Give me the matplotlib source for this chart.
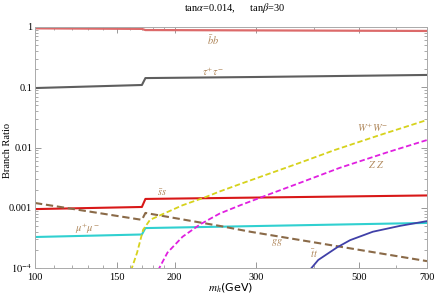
import matplotlib
matplotlib.use("Agg")
import matplotlib.pyplot as plt
from matplotlib.ticker import FixedLocator, NullFormatter, LogLocator

plt.rcParams['font.family'] = ['Liberation Serif', 'DejaVu Serif']
plt.rcParams['mathtext.fontset'] = 'stix'

# ---- data (m_h in GeV, branching ratio) ----
bb_m = [100, 170, 173, 700]
bb_br = [0.95, 0.93, 0.89, 0.86]

tau_m = [100, 170, 173, 300, 700]
tau_br = [0.097, 0.109, 0.142, 0.148, 0.16]

ss_m = [100, 170, 173, 700]
ss_br = [0.00095, 0.00103, 0.0014, 0.0016]

mu_m = [100, 170, 173, 700]
mu_br = [3.27e-4, 3.6e-4, 4.6e-4, 5.6e-4]

gg_m = [100, 170, 173, 250, 291, 700]
gg_br = [1.2e-3, 6.3e-4, 8.2e-4, 5.0e-4, 4.0e-4, 1.3e-4]

ww_m = [161, 166, 171, 177, 193, 208, 233, 250, 277, 373, 443, 554, 700]
ww_br = [0.9e-4, 1.8e-4, 4.3e-4, 6.3e-4, 8.5e-4, 1.1e-3, 1.5e-3, 1.86e-3, 2.48e-3, 5.6e-3, 9.1e-3, 0.0161, 0.0286]

zz_m = [184, 193, 208, 227, 250, 277, 321, 373, 454, 577, 700]
zz_br = [0.9e-4, 1.8e-4, 3.3e-4, 5.3e-4, 8.0e-4, 1.1e-3, 1.69e-3, 2.6e-3, 4.6e-3, 8.4e-3, 0.0133]

tt_m = [390, 408, 448, 478, 535, 612, 700]
tt_br = [0.9e-4, 1.36e-4, 2.2e-4, 2.9e-4, 4.0e-4, 5.0e-4, 6.0e-4]

x_major = [100, 150, 200, 300, 500, 700]
x_minor = [110, 120, 130, 140, 160, 170, 180, 190, 400, 600]
y_major = [1e-4, 1e-3, 1e-2, 1e-1, 1]
y_labels = ['$10^{-4}$', '0.001', '0.01', '0.1', '1']

fig = plt.figure(figsize=(4.36, 2.96), dpi=100)
ax = fig.add_axes([35/436, 1-268/296, (427-35)/436, (268-27)/296])
ax.set_xscale('log')
ax.set_yscale('log')
ax.set_xlim(100, 700)
ax.set_ylim(1e-4, 1)

ax.plot(bb_m, bb_br, color='#dc6a6a', lw=1.6)
ax.plot(tau_m, tau_br, color='#5e5e5e', lw=1.5)
ax.plot(ss_m, ss_br, color='#d81818', lw=1.5)
ax.plot(mu_m, mu_br, color='#30d0d0', lw=1.5)
ax.plot(gg_m, gg_br, color='#8a6a48', lw=1.5, dashes=(3.5, 1.8))
ax.plot(ww_m, ww_br, color='#d6d21c', lw=1.3, dashes=(3, 1.5))
ax.plot(zz_m, zz_br, color='#e020e0', lw=1.3, dashes=(3, 1.5))
ax.plot(tt_m, tt_br, color='#4040a8', lw=1.3)

lab_c = '#b0885c'
fs = 7.5


def lab(px, py, s):
    # label centre, in figure pixels
    fig.text(px/436, 1-py/296, s, color=lab_c, fontsize=fs, ha='center', va='center')


lab(213, 40, r'$\bar{b}b$')
lab(213, 72, r'$\tau^{+}\tau^{-}$')
lab(162, 193, r'$\bar{s}s$')
lab(87, 229, r'$\mu^{+}\mu^{-}$')
lab(373, 128, r'$W^{+}W^{-}$')
lab(376, 165, r'$Z\ Z$')
lab(277, 243, r'$gg$')
lab(314, 254, r'$\bar{t}t$')

ax.xaxis.set_major_locator(FixedLocator(x_major))
ax.set_xticklabels([str(v) for v in x_major])
ax.xaxis.set_minor_locator(FixedLocator(x_minor))
ax.xaxis.set_minor_formatter(NullFormatter())
ax.yaxis.set_major_locator(FixedLocator(y_major))
ax.set_yticklabels(y_labels)
ax.yaxis.set_minor_locator(LogLocator(base=10, subs=range(2, 10)))
ax.yaxis.set_minor_formatter(NullFormatter())

ax.tick_params(which='both', direction='in', top=True, right=True, color='#888888',
               labelsize=7.5)
ax.tick_params(axis='x', which='major', pad=3.5)
ax.tick_params(axis='y', which='major', pad=2)
ax.tick_params(which='major', length=4, width=0.6)
ax.tick_params(which='minor', length=2, width=0.5)
for sp in ax.spines.values():
    sp.set_color('#aaaaaa')
    sp.set_linewidth(0.7)

fig.text(8/436, 1-150/296, 'Branch Ratio', rotation=90, fontsize=7.5, ha='center', va='center')
fig.text(231/436, 1-288/296, r'$m_h$(GeV)', fontsize=8, ha='center', va='center',
         family=['DejaVu Sans'])
fig.text(235/436, 1-8/296, r'tan$\alpha$=0.014,      tan$\beta$=30', fontsize=7.5,
         ha='center', va='center')

fig.savefig('out.png', dpi=100)
